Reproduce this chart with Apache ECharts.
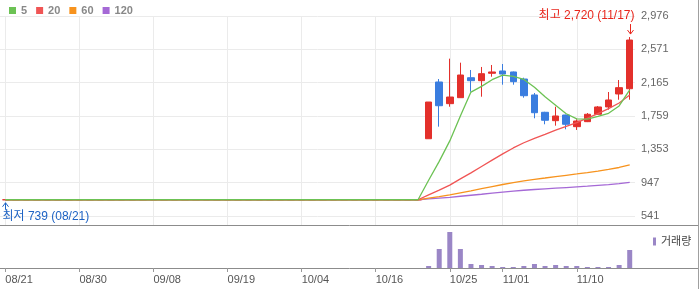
<!DOCTYPE html>
<html><head><meta charset="utf-8">
<script src="https://cdn.jsdelivr.net/npm/echarts@6/dist/echarts.min.js"></script>
<style>html,body{margin:0;padding:0;background:#fff}#c{width:700px;height:289px}</style>
</head><body><div id="c"></div>
<script>
const dates = ['08/21','08/22','08/23','08/24','08/25','08/28','08/29','08/30','08/31','09/01','09/04','09/05','09/06','09/07','09/08','09/11','09/12','09/13','09/14','09/15','09/18','09/19','09/20','09/21','09/22','09/25','09/26','09/27','10/04','10/05','10/06','10/10','10/11','10/12','10/13','10/16','10/17','10/18','10/19','10/20','10/23','10/24','10/25','10/26','10/27','10/30','10/31','11/01','11/02','11/03','11/06','11/07','11/08','11/09','11/10','11/13','11/14','11/15','11/16','11/17'];
const tickLabels = ['08/21','08/30','09/08','09/19','10/04','10/16','10/25','11/01','11/10'];
const priceTicks = [541.4, 947.2, 1353.1, 1758.9, 2164.7, 2570.6, 2976.4];
const priceMin = 419.65, priceMax = 2976.4;

const opens  = [739,739,739,739,739,739,739,739,739,739,739,739,739,739,739,739,739,739,739,739,739,739,739,739,739,739,739,739,739,739,739,739,739,739,739,739,739,739,739,739,
  1482,2173,1909,1982,2225,2189,2279,2307,2295,2209,2015,1804,1702,1771,1629,1690,1780,1869,2027,2091];
const closes = [739,739,739,739,739,739,739,739,739,739,739,739,739,739,739,739,739,739,739,739,739,739,739,739,739,739,739,739,739,739,739,739,739,739,739,739,739,739,739,739,
  1929,1884,1990,2258,2189,2274,2295,2270,2177,2006,1799,1707,1759,1658,1698,1780,1869,1954,2104,2684];
const lows   = [739,739,739,739,739,739,739,739,739,739,739,739,739,739,739,739,739,739,739,739,739,739,739,739,739,739,739,739,739,739,739,739,739,739,739,739,739,739,739,739,
  1482,1629,1872,1982,2055,1994,2237,2140,2140,1982,1731,1658,1641,1597,1589,1685,1775,1836,1957,1957];
const highs  = [739,739,739,739,739,739,739,739,739,739,739,739,739,739,739,739,739,739,739,739,739,739,739,739,739,739,739,739,739,739,739,739,739,739,739,739,739,739,739,739,
  1929,2209,2457,2408,2319,2356,2380,2392,2300,2225,2039,1810,1872,1775,1719,1795,1880,2051,2197,2720];
const volumes = [0,0,0,0,0,0,0,0,0,0,0,0,0,0,0,0,0,0,0,0,0,0,0,0,0,0,0,0,0,0,0,0,0,0,0,0,0,0,0,0,
  200,1900,3600,1900,400,300,200,100,100,200,400,200,300,200,200,100,100,100,300,1800];
const ma5   = [739,739,739,739,739,739,739,739,739,739,739,739,739,739,739,739,739,739,739,739,739,739,739,739,739,739,739,739,739,739,739,739,739,739,739,739,739,739,739,739,
  977,1206,1456,1760,2050,2119,2201,2257,2241,2204,2109,1992,1890,1786,1724,1720,1753,1792,1881,2078];
const ma20  = [739,739,739,739,739,739,739,739,739,739,739,739,739,739,739,739,739,739,739,739,739,739,739,739,739,739,739,739,739,739,739,739,739,739,739,739,739,739,739,739,
  799,856,918,994,1067,1144,1221,1298,1370,1433,1486,1535,1586,1632,1679,1732,1788,1849,1917,2014];
const ma60  = [739,739,739,739,739,739,739,739,739,739,739,739,739,739,739,739,739,739,739,739,739,739,739,739,739,739,739,739,739,739,739,739,739,739,739,739,739,739,739,739,
  759,778,799,824,848,874,900,925,949,970,988,1004,1021,1037,1053,1070,1089,1109,1132,1164];
const ma120 = [739,739,739,739,739,739,739,739,739,739,739,739,739,739,739,739,739,739,739,739,739,739,739,739,739,739,739,739,739,739,739,739,739,739,739,739,739,739,739,739,
  749,759,769,782,794,806,819,832,844,855,864,872,880,888,896,904,914,924,935,952];

const UP = '#e3302b', DOWN = '#3a7ddf';
const FONT = "'Liberation Sans', 'Noto Sans CJK KR', sans-serif";
const candleData = dates.map((d, i) => [opens[i], closes[i], lows[i], highs[i]]);
const showTick = (i, v) => tickLabels.indexOf(v) >= 0;

const chart = echarts.init(document.getElementById('c'), null, {renderer: 'canvas'});
chart.setOption({
  animation: false,
  backgroundColor: '#fff',
  textStyle: {fontFamily: FONT},
  legend: [
    {data: ['5','20','60','120'], left: 4, top: 0, icon: 'rect', itemWidth: 7, itemHeight: 7, itemGap: 9,
     selectedMode: false, textStyle: {color: '#888', fontWeight: 'bold', fontSize: 11, fontFamily: FONT}},
    {data: ['거래량'], left: 648, top: 231, icon: 'rect', itemWidth: 3, itemHeight: 8,
     selectedMode: false, textStyle: {color: '#444', fontSize: 11, fontFamily: FONT}}
  ],
  grid: [
    {left: 0, top: 16, width: 635, height: 210},
    {left: 0, top: 226, width: 635, height: 42}
  ],
  xAxis: [
    {type: 'category', gridIndex: 0, data: dates, boundaryGap: true,
     axisLine: {show: false}, axisTick: {show: false}, axisLabel: {show: false},
     splitLine: {show: true, interval: showTick, alignWithLabel: true, lineStyle: {color: '#ebebeb'}}},
    {type: 'category', gridIndex: 1, data: dates, boundaryGap: true,
     axisLine: {show: false},
     axisTick: {show: true, interval: showTick, alignWithLabel: true, length: 4, lineStyle: {color: '#999'}},
     axisLabel: {show: true, interval: showTick, align: 'left', margin: 6, color: '#555', fontSize: 11, fontFamily: FONT},
     splitLine: {show: false}}
  ],
  yAxis: [
    {type: 'value', gridIndex: 0, position: 'right', min: priceMin, max: priceMax, scale: true,
     axisLine: {show: false},
     axisTick: {show: false, customValues: priceTicks},
     axisLabel: {customValues: priceTicks, margin: 6, color: '#666', fontSize: 11, fontFamily: FONT,
       formatter: v => Math.round(v).toLocaleString('en-US')},
     splitLine: {show: true, lineStyle: {color: '#ebebeb'}}},
    {type: 'value', gridIndex: 1, min: 0, max: 4200,
     axisLine: {show: false}, axisTick: {show: false}, axisLabel: {show: false}, splitLine: {show: false}}
  ],
  series: [
    {name: '120', type: 'line', xAxisIndex: 0, yAxisIndex: 0, data: ma120, symbol: 'none', color: '#a569d6', lineStyle: {width: 1.3, color: '#a569d6'}},
    {name: '60', type: 'line', xAxisIndex: 0, yAxisIndex: 0, data: ma60, symbol: 'none', color: '#f7931e', lineStyle: {width: 1.3, color: '#f7931e'}},
    {name: '20', type: 'line', xAxisIndex: 0, yAxisIndex: 0, data: ma20, symbol: 'none', color: '#f05555', lineStyle: {width: 1.3, color: '#f05555'}},
    {name: '5', type: 'line', xAxisIndex: 0, yAxisIndex: 0, data: ma5, symbol: 'none', color: '#6cc254', lineStyle: {width: 1.3, color: '#6cc254'}},
    {name: 'candle', type: 'candlestick', xAxisIndex: 0, yAxisIndex: 0, data: candleData, barWidth: 7,
     itemStyle: {color: UP, color0: DOWN, borderColor: UP, borderColor0: DOWN, borderColorDoji: UP, borderWidth: 1}},
    {name: '거래량', type: 'bar', xAxisIndex: 1, yAxisIndex: 1, data: volumes, barWidth: 5, color: '#9a86c6',
     itemStyle: {color: '#9a86c6'}}
  ]
});

// annotations positioned through the chart's own scales
let hiIdx = 0, loIdx = 0;
for (let i = 0; i < highs.length; i++) { if (highs[i] > highs[hiIdx]) hiIdx = i; if (lows[i] < lows[loIdx]) loIdx = i; }
const ph = chart.convertToPixel({gridIndex: 0}, [hiIdx, highs[hiIdx]]);
const pl = chart.convertToPixel({gridIndex: 0}, [loIdx, lows[loIdx]]);
const hx = Math.round(ph[0]) + 0.5, lx = Math.round(pl[0]) + 0.5;
const HI = '#e8261c', LO = '#1e63c4';
chart.setOption({
  graphic: {elements: [
    {type: 'line', shape: {x1: 0, y1: 225.5, x2: 699, y2: 225.5}, style: {stroke: '#8c8c8c', lineWidth: 1}, silent: true},
    {type: 'line', shape: {x1: 0, y1: 268.5, x2: 699, y2: 268.5}, style: {stroke: '#8c8c8c', lineWidth: 1}, silent: true},
    {type: 'line', shape: {x1: 698.5, y1: 0, x2: 698.5, y2: 289}, style: {stroke: '#a0a0a0', lineWidth: 1}, silent: true},
    {type: 'line', shape: {x1: hx, y1: ph[1] - 13, x2: hx, y2: ph[1] - 3}, style: {stroke: HI, lineWidth: 1}},
    {type: 'polyline', shape: {points: [[hx - 3, ph[1] - 7], [hx, ph[1] - 3], [hx + 3, ph[1] - 7]]}, style: {stroke: HI, lineWidth: 1, fill: null}},
    {type: 'text', x: hx + 4, y: ph[1] - 21, style: {text: '최고 ' + highs[hiIdx].toLocaleString('en-US') + ' (' + dates[hiIdx] + ')',
      fill: HI, font: '12px ' + FONT, textAlign: 'right', textVerticalAlign: 'middle'}},
    {type: 'line', shape: {x1: lx, y1: pl[1] + 3, x2: lx, y2: pl[1] + 10}, style: {stroke: LO, lineWidth: 1}},
    {type: 'polyline', shape: {points: [[lx - 3, pl[1] + 7], [lx, pl[1] + 3], [lx + 3, pl[1] + 7]]}, style: {stroke: LO, lineWidth: 1, fill: null}},
    {type: 'text', x: lx - 3, y: pl[1] + 17, style: {text: '최저 ' + lows[loIdx].toLocaleString('en-US') + ' (' + dates[loIdx] + ')',
      fill: LO, font: '12px ' + FONT, textAlign: 'left', textVerticalAlign: 'middle'}}
  ]}
});
</script></body></html>
